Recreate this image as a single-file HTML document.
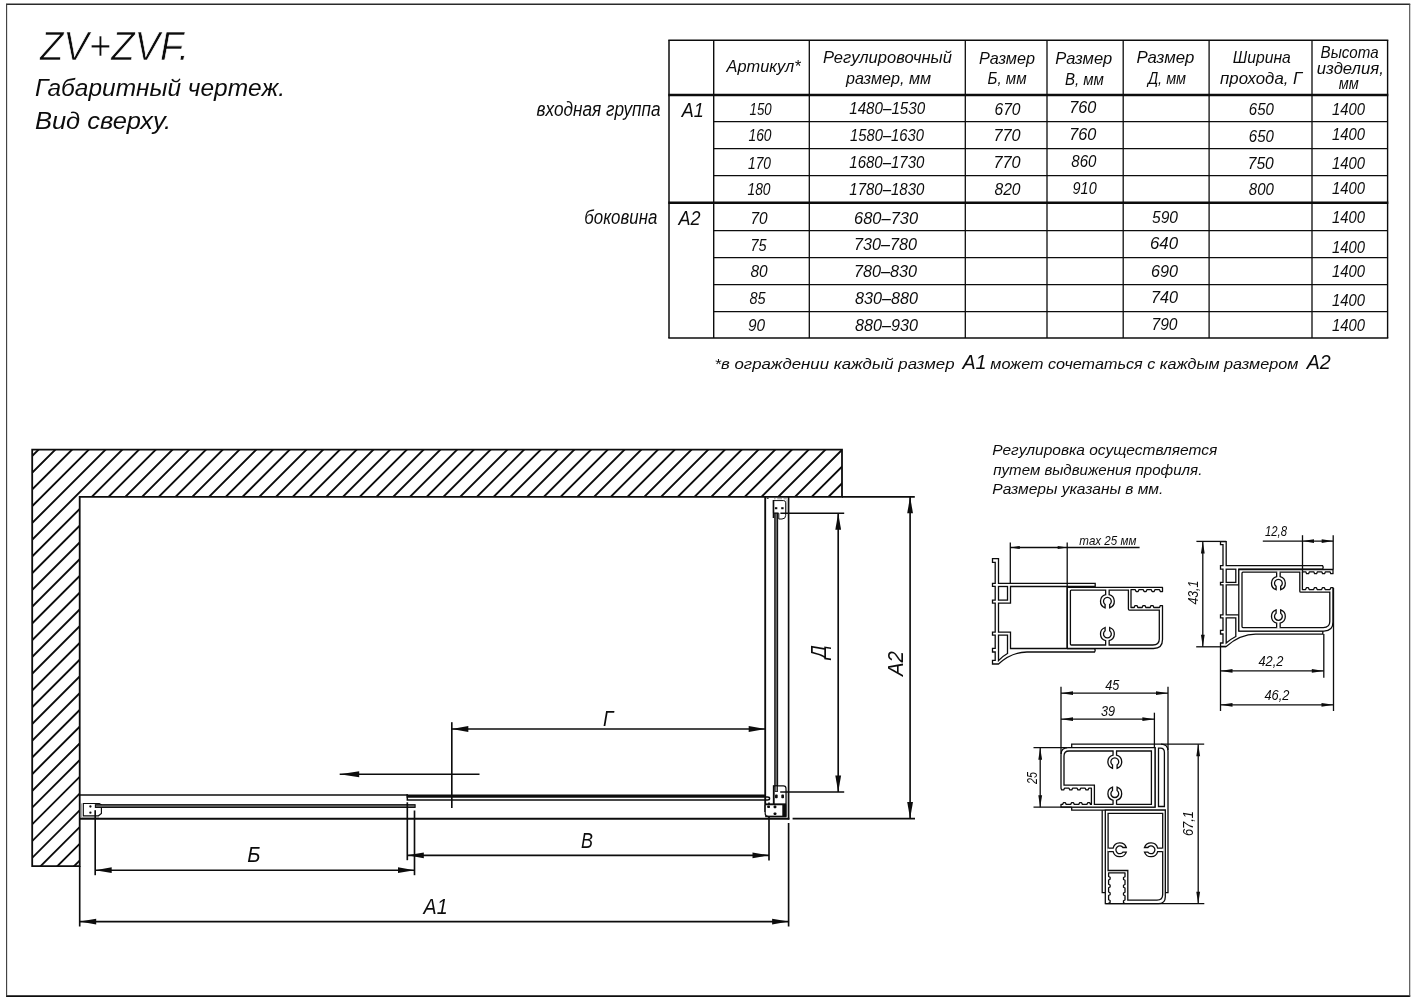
<!DOCTYPE html>
<html lang="ru">
<head>
<meta charset="utf-8">
<title>ZV+ZVF. Габаритный чертеж. Вид сверху.</title>
<style>
html,body{margin:0;padding:0;background:#fff;}
body{width:1415px;height:1000px;overflow:hidden;}
svg{display:block;filter:grayscale(1);}
svg text{font-family:"Liberation Sans", "DejaVu Sans", sans-serif;font-style:italic;fill:#0c0c0c;}
</style>
</head>
<body>
<svg width="1415" height="1000" viewBox="0 0 1415 1000">
<rect width="1415" height="1000" fill="#fff"/>
<g stroke="#0c0c0c" fill="none" stroke-linecap="butt" stroke-linejoin="miter">
<line x1="6.00" y1="4.30" x2="1410.20" y2="4.30" stroke-width="1.5" stroke="#2a2a2a"/>
<line x1="6.00" y1="996.10" x2="1410.20" y2="996.10" stroke-width="1.6"/>
<line x1="6.60" y1="4.00" x2="6.60" y2="996.50" stroke-width="1.1" stroke="#3a3a3a"/>
<line x1="1409.70" y1="4.00" x2="1409.70" y2="996.50" stroke-width="1.1" stroke="#4a4a4a"/>
<line x1="669.00" y1="40.20" x2="669.00" y2="338.00" stroke-width="1.5"/>
<line x1="713.70" y1="40.20" x2="713.70" y2="338.00" stroke-width="1.4"/>
<line x1="809.30" y1="40.20" x2="809.30" y2="338.00" stroke-width="1.3"/>
<line x1="965.30" y1="40.20" x2="965.30" y2="338.00" stroke-width="1.3"/>
<line x1="1047.00" y1="40.20" x2="1047.00" y2="338.00" stroke-width="1.3"/>
<line x1="1123.20" y1="40.20" x2="1123.20" y2="338.00" stroke-width="1.3"/>
<line x1="1209.10" y1="40.20" x2="1209.10" y2="338.00" stroke-width="1.3"/>
<line x1="1312.00" y1="40.20" x2="1312.00" y2="338.00" stroke-width="1.3"/>
<line x1="1387.60" y1="40.20" x2="1387.60" y2="338.00" stroke-width="1.4"/>
<line x1="668.30" y1="40.20" x2="1388.30" y2="40.20" stroke-width="1.4"/>
<line x1="668.30" y1="338.00" x2="1388.30" y2="338.00" stroke-width="1.3"/>
<line x1="668.30" y1="95.00" x2="1388.30" y2="95.00" stroke-width="2.4"/>
<line x1="668.30" y1="202.80" x2="1388.30" y2="202.80" stroke-width="2.4"/>
<line x1="713.70" y1="121.60" x2="1387.60" y2="121.60" stroke-width="1.25"/>
<line x1="713.70" y1="148.60" x2="1387.60" y2="148.60" stroke-width="1.25"/>
<line x1="713.70" y1="175.60" x2="1387.60" y2="175.60" stroke-width="1.25"/>
<line x1="713.70" y1="230.50" x2="1387.60" y2="230.50" stroke-width="1.25"/>
<line x1="713.70" y1="257.50" x2="1387.60" y2="257.50" stroke-width="1.25"/>
<line x1="713.70" y1="284.50" x2="1387.60" y2="284.50" stroke-width="1.25"/>
<line x1="713.70" y1="311.50" x2="1387.60" y2="311.50" stroke-width="1.25"/>
<clipPath id="wc"><polygon points="32.2,449.7 842,449.7 842,496.8 79.7,496.8 79.7,866.1 32.2,866.1"/></clipPath>
<path d="M-382.90 871.10L43.50 444.70M-366.16 871.10L60.24 444.70M-349.42 871.10L76.98 444.70M-332.67 871.10L93.73 444.70M-315.93 871.10L110.47 444.70M-299.19 871.10L127.21 444.70M-282.45 871.10L143.95 444.70M-265.71 871.10L160.69 444.70M-248.96 871.10L177.44 444.70M-232.22 871.10L194.18 444.70M-215.48 871.10L210.92 444.70M-198.74 871.10L227.66 444.70M-182.00 871.10L244.40 444.70M-165.25 871.10L261.15 444.70M-148.51 871.10L277.89 444.70M-131.77 871.10L294.63 444.70M-115.03 871.10L311.37 444.70M-98.29 871.10L328.11 444.70M-81.54 871.10L344.86 444.70M-64.80 871.10L361.60 444.70M-48.06 871.10L378.34 444.70M-31.32 871.10L395.08 444.70M-14.58 871.10L411.82 444.70M2.17 871.10L428.57 444.70M18.91 871.10L445.31 444.70M35.65 871.10L462.05 444.70M52.39 871.10L478.79 444.70M69.13 871.10L495.53 444.70M85.88 871.10L512.28 444.70M102.62 871.10L529.02 444.70M119.36 871.10L545.76 444.70M136.10 871.10L562.50 444.70M152.84 871.10L579.24 444.70M169.59 871.10L595.99 444.70M186.33 871.10L612.73 444.70M203.07 871.10L629.47 444.70M219.81 871.10L646.21 444.70M236.55 871.10L662.95 444.70M253.30 871.10L679.70 444.70M270.04 871.10L696.44 444.70M286.78 871.10L713.18 444.70M303.52 871.10L729.92 444.70M320.26 871.10L746.66 444.70M337.01 871.10L763.41 444.70M353.75 871.10L780.15 444.70M370.49 871.10L796.89 444.70M387.23 871.10L813.63 444.70M403.97 871.10L830.37 444.70M420.72 871.10L847.12 444.70M437.46 871.10L863.86 444.70M454.20 871.10L880.60 444.70M470.94 871.10L897.34 444.70" stroke-width="1.9" fill="none" clip-path="url(#wc)"/>
<polygon points="32.2,449.7 842,449.7 842,496.8 79.7,496.8 79.7,866.1 32.2,866.1" fill="none" stroke-width="1.8"/>
<line x1="842.00" y1="496.80" x2="914.80" y2="496.80" stroke-width="1.65"/>
<line x1="765.20" y1="496.80" x2="765.20" y2="812.00" stroke-width="1.85"/>
<line x1="788.60" y1="496.80" x2="788.60" y2="819.60" stroke-width="1.65"/>
<line x1="787.00" y1="500.00" x2="787.00" y2="514.00" stroke-width="0.9" stroke="#9a9a9a"/>
<line x1="786.90" y1="790.00" x2="786.90" y2="816.00" stroke-width="0.9" stroke="#9a9a9a"/>
<line x1="788.60" y1="823.00" x2="788.60" y2="926.50" stroke-width="1.65"/>
<line x1="79.70" y1="866.10" x2="79.70" y2="926.50" stroke-width="1.65"/>
<line x1="79.70" y1="795.00" x2="407.50" y2="795.00" stroke-width="1.55"/>
<line x1="79.70" y1="818.70" x2="789.40" y2="818.70" stroke-width="1.85"/>
<line x1="792.60" y1="818.60" x2="915.00" y2="818.60" stroke-width="1.65"/>
<path d="M773.4 500.6H783.6Q785.7 500.6 785.7 502.8V515.4Q785.7 519 782 519H778.8V513.2H773.4Z" stroke-width="1.0" fill="#fff"/>
<line x1="773.50" y1="500.00" x2="773.50" y2="518.00" stroke-width="1.6"/>
<rect x="774.9" y="507.2" width="2.4" height="2" fill="#0c0c0c" stroke="none"/><rect x="781.2" y="507.2" width="2.4" height="2" fill="#0c0c0c" stroke="none"/>
<line x1="774.00" y1="498.80" x2="786.80" y2="498.80" stroke-width="0.9" stroke="#888" stroke-dasharray="1.6 1.6 4.8 1.6 3.2 20"/>
<line x1="766.80" y1="498.30" x2="768.60" y2="498.30" stroke-width="1.0"/>
<rect x="774.80" y="513.20" width="2.80" height="278.40" rx="0" stroke-width="1.1" fill="#6a6a6a"/>
<path d="M81.4 803.4V817.5H99" stroke-width="0.8" fill="none" stroke="#8a8a8a"/>
<path d="M83.3 803.5H99.3L101.4 804.9V813.4L98.4 815.8H83.3Z" stroke-width="1.15" fill="#fff"/>
<circle cx="90.4" cy="806.5" r="1.15" fill="#0c0c0c" stroke="none"/><circle cx="90.4" cy="812.7" r="1.15" fill="#0c0c0c" stroke="none"/>
<rect x="95.40" y="804.70" width="319.70" height="2.70" rx="0" stroke-width="1.1" fill="#6a6a6a"/>
<line x1="95.20" y1="810.20" x2="95.20" y2="875.20" stroke-width="1.65"/>
<line x1="414.50" y1="810.50" x2="414.50" y2="875.20" stroke-width="1.65"/>
<line x1="407.30" y1="802.30" x2="407.30" y2="860.20" stroke-width="1.65"/>
<line x1="769.00" y1="802.50" x2="769.00" y2="860.50" stroke-width="1.65"/>
<line x1="451.80" y1="722.20" x2="451.80" y2="808.00" stroke-width="1.65"/>
<path d="M773.7 804.3V787.6Q773.7 785.9 775.4 785.9H783.4Q786 785.9 786 788.5V816.6H768.2Q765.2 816.6 765.2 813.6V805" stroke-width="1.2" fill="#fff"/>
<line x1="773.70" y1="785.20" x2="773.70" y2="804.30" stroke-width="1.7"/>
<rect x="774.90" y="786.00" width="2.70" height="5.60" rx="0" stroke-width="0.8" fill="#8a8a8a"/>
<line x1="765.20" y1="804.30" x2="786.00" y2="804.30" stroke-width="1.9"/>
<rect x="782.3" y="804.3" width="3.9" height="12.5" fill="#0c0c0c" stroke="none"/>
<line x1="765.20" y1="816.40" x2="786.00" y2="816.40" stroke-width="1.5"/>
<rect x="775.0" y="794.6" width="2.7" height="3.6" rx="0.8" fill="#0c0c0c" stroke="none"/>
<rect x="781.3" y="794.6" width="2.7" height="3.6" rx="0.8" fill="#0c0c0c" stroke="none"/>
<rect x="767.2" y="805.5" width="2.8" height="2.6" rx="0.8" fill="#0c0c0c" stroke="none"/>
<rect x="773.6" y="805.6" width="2.8" height="2.6" rx="0.8" fill="#0c0c0c" stroke="none"/>
<rect x="773.6" y="812.4" width="2.8" height="2.6" rx="0.8" fill="#0c0c0c" stroke="none"/>
<path d="M407.3 794.3V799.9H767.5Q769.6 799.9 769.6 798.4Q769.6 796.9 767.5 796.9H765.5" stroke-width="1.45" fill="none"/>
<line x1="406.60" y1="796.10" x2="765.60" y2="796.10" stroke-width="3.3"/>
<line x1="79.70" y1="921.60" x2="788.60" y2="921.60" stroke-width="1.65"/>
<polygon points="79.70,921.60 96.20,918.70 96.20,924.50" fill="#0c0c0c" stroke="none"/>
<polygon points="788.60,921.60 772.10,924.50 772.10,918.70" fill="#0c0c0c" stroke="none"/>
<line x1="95.20" y1="870.20" x2="414.50" y2="870.20" stroke-width="1.65"/>
<polygon points="95.20,870.20 111.70,867.30 111.70,873.10" fill="#0c0c0c" stroke="none"/>
<polygon points="414.50,870.20 398.00,873.10 398.00,867.30" fill="#0c0c0c" stroke="none"/>
<line x1="407.30" y1="855.30" x2="769.00" y2="855.30" stroke-width="1.65"/>
<polygon points="407.30,855.30 423.80,852.40 423.80,858.20" fill="#0c0c0c" stroke="none"/>
<polygon points="769.00,855.30 752.50,858.20 752.50,852.40" fill="#0c0c0c" stroke="none"/>
<line x1="451.80" y1="729.00" x2="765.20" y2="729.00" stroke-width="1.65"/>
<polygon points="451.80,729.00 468.30,726.10 468.30,731.90" fill="#0c0c0c" stroke="none"/>
<polygon points="765.20,729.00 748.70,731.90 748.70,726.10" fill="#0c0c0c" stroke="none"/>
<line x1="339.70" y1="774.20" x2="479.50" y2="774.20" stroke-width="1.65"/>
<polygon points="339.70,774.20 359.20,771.20 359.20,777.20" fill="#0c0c0c" stroke="none"/>
<line x1="780.40" y1="513.20" x2="844.20" y2="513.20" stroke-width="1.65"/>
<line x1="780.20" y1="792.00" x2="844.20" y2="792.00" stroke-width="1.65"/>
<line x1="838.20" y1="513.20" x2="838.20" y2="792.00" stroke-width="1.65"/>
<polygon points="838.20,513.20 841.10,529.70 835.30,529.70" fill="#0c0c0c" stroke="none"/>
<polygon points="838.20,792.00 835.30,775.50 841.10,775.50" fill="#0c0c0c" stroke="none"/>
<line x1="910.10" y1="496.80" x2="910.10" y2="818.60" stroke-width="1.65"/>
<polygon points="910.10,496.80 913.00,513.30 907.20,513.30" fill="#0c0c0c" stroke="none"/>
<polygon points="910.10,818.60 907.20,802.10 913.00,802.10" fill="#0c0c0c" stroke="none"/>
<path d="M992.5 558.7H998.5V583.3H1095.2V586.5H1010.5V603.2H998.5V632.2H1010.5V648.5H1094.5Q1095.8 650.2 1094.5 652H1027C1015 652 1006 657 998.5 664H992.5V660.4H995.2V652H992.5V648.4H995.2V635.2H992.5V632.2H995.2V603.2H992.5V600.2H995.2V586.4H992.5V583.3H995.2V562.3H992.5Z" stroke-width="1.3" fill="#fff"/>
<rect x="998.50" y="586.50" width="9.00" height="13.60" rx="0" stroke-width="1.3" fill="none"/>
<path d="M998.5 635.2H1007.5V653.5Q1002 656.5 998.5 660.6Z" stroke-width="1.3" fill="none"/>
<path d="M1067.2 587.4H1162.5V591.5999999999999H1160.3L1159.50 589.6999999999999L1154.90 589.70L1154.10 591.60L1152.10 591.60L1151.30 589.70L1146.90 589.70L1146.10 591.60L1144.10 591.60L1143.30 589.70L1138.90 589.70L1138.10 591.60L1136.10 591.60L1135.30 589.70L1131.00 589.70V607.5L1134.20 607.50L1135.00 605.60L1137.00 605.60L1137.80 607.50L1142.20 607.50L1143.00 605.60L1145.00 605.60L1145.80 607.50L1150.20 607.50L1151.00 605.60L1153.00 605.60L1153.80 607.50L1159.50 607.50L1160.30 605.6H1162.5V639.5Q1162.5 648.5 1153.5 648.5H1067.2Z" stroke-width="1.3" fill="#fff" stroke-linejoin="round"/>
<path d="M1071.4 590.1H1128.4V609.1Q1128.4 610.1 1129.4 610.1H1159.3V639.0Q1159.3 645.0 1152.8 645.0H1071.4Q1070.4 645.0 1070.4 644.0V591.1Q1070.4 590.1 1071.4 590.1Z" stroke-width="1.3" fill="#fff"/>
<g transform="translate(1107.40 601.30) rotate(0)"><line x1="-1.15" y1="-11.20" x2="1.15" y2="-11.20" stroke="#fff" stroke-width="2"/><path d="M-1.75 -11.20V-6.67A6.9 6.9 0 0 0 -2.30 6.51L-2.30 3.15A3.9 3.9 0 1 1 2.30 3.15L2.30 6.51A6.9 6.9 0 0 0 1.75 -6.67V-11.20" stroke-width="1.3" fill="#fff"/></g>
<g transform="translate(1107.40 634.00) rotate(180)"><line x1="-1.15" y1="-11.00" x2="1.15" y2="-11.00" stroke="#fff" stroke-width="2"/><path d="M-1.75 -11.00V-6.67A6.9 6.9 0 0 0 -2.30 6.51L-2.30 3.15A3.9 3.9 0 1 1 2.30 3.15L2.30 6.51A6.9 6.9 0 0 0 1.75 -6.67V-11.00" stroke-width="1.3" fill="#fff"/></g>
<line x1="1010.30" y1="542.40" x2="1010.30" y2="583.30" stroke-width="1.3"/>
<line x1="1067.20" y1="542.40" x2="1067.20" y2="648.50" stroke-width="1.3"/>
<line x1="1010.30" y1="547.50" x2="1139.60" y2="547.50" stroke-width="1.3"/>
<polygon points="1010.30,547.50 1019.80,545.90 1019.80,549.10" fill="#0c0c0c" stroke="none"/>
<polygon points="1067.20,547.50 1057.70,549.10 1057.70,545.90" fill="#0c0c0c" stroke="none"/>
<path d="M1220.5 541.6H1226.2V565.6H1322.5Q1323.8 567.4 1322.5 569.2H1238.8V584.8H1226.2V614.8H1238.8V630.8H1322.8V634.2H1255.6C1245 634.2 1235 639 1226.2 646.4H1220.5V643H1223V634H1220.5V630.4H1223V617.8H1220.5V614.8H1223V584.8H1220.5V582.4H1223V569.2H1220.5V565.6H1223V544.6H1220.5Z" stroke-width="1.3" fill="#fff"/>
<rect x="1226.20" y="569.20" width="9.60" height="13.20" rx="0" stroke-width="1.3" fill="none"/>
<path d="M1226.2 617.8H1235.8V636.5Q1230 639.5 1226.2 643Z" stroke-width="1.3" fill="none"/>
<path d="M1238.8 569.5H1333V573.6999999999999H1330.8L1330.00 571.8L1325.40 571.80L1324.60 573.70L1322.60 573.70L1321.80 571.80L1317.40 571.80L1316.60 573.70L1314.60 573.70L1313.80 571.80L1309.40 571.80L1308.60 573.70L1306.60 573.70L1305.80 571.80L1302.40 571.80V589.6L1305.60 589.60L1306.40 587.70L1308.40 587.70L1309.20 589.60L1313.60 589.60L1314.40 587.70L1316.40 587.70L1317.20 589.60L1321.60 589.60L1322.40 587.70L1324.40 587.70L1325.20 589.60L1330.00 589.60L1330.80 587.7H1333V622.1Q1333 631.1 1324 631.1H1238.8Z" stroke-width="1.3" fill="#fff" stroke-linejoin="round"/>
<path d="M1243.0 572.2H1299.8000000000002V591.2Q1299.8000000000002 592.2 1300.8000000000002 592.2H1329.8V621.6Q1329.8 627.6 1323.3 627.6H1243.0Q1242.0 627.6 1242.0 626.6V573.2Q1242.0 572.2 1243.0 572.2Z" stroke-width="1.3" fill="#fff"/>
<g transform="translate(1278.40 583.20) rotate(0)"><line x1="-1.15" y1="-11.00" x2="1.15" y2="-11.00" stroke="#fff" stroke-width="2"/><path d="M-1.75 -11.00V-6.67A6.9 6.9 0 0 0 -2.30 6.51L-2.30 3.15A3.9 3.9 0 1 1 2.30 3.15L2.30 6.51A6.9 6.9 0 0 0 1.75 -6.67V-11.00" stroke-width="1.3" fill="#fff"/></g>
<g transform="translate(1278.40 616.40) rotate(180)"><line x1="-1.15" y1="-11.20" x2="1.15" y2="-11.20" stroke="#fff" stroke-width="2"/><path d="M-1.75 -11.20V-6.67A6.9 6.9 0 0 0 -2.30 6.51L-2.30 3.15A3.9 3.9 0 1 1 2.30 3.15L2.30 6.51A6.9 6.9 0 0 0 1.75 -6.67V-11.20" stroke-width="1.3" fill="#fff"/></g>
<line x1="1196.40" y1="541.40" x2="1226.20" y2="541.40" stroke-width="1.3"/>
<line x1="1196.20" y1="646.80" x2="1226.20" y2="646.80" stroke-width="1.3"/>
<line x1="1202.80" y1="541.40" x2="1202.80" y2="646.80" stroke-width="1.3"/>
<polygon points="1202.80,541.40 1204.70,553.40 1200.90,553.40" fill="#0c0c0c" stroke="none"/>
<polygon points="1202.80,646.80 1200.90,634.80 1204.70,634.80" fill="#0c0c0c" stroke="none"/>
<line x1="1262.80" y1="541.10" x2="1333.20" y2="541.10" stroke-width="1.3"/>
<line x1="1302.50" y1="535.20" x2="1302.50" y2="572.80" stroke-width="1.3"/>
<line x1="1333.20" y1="535.20" x2="1333.20" y2="569.60" stroke-width="1.3"/>
<polygon points="1302.50,541.10 1314.00,539.30 1314.00,542.90" fill="#0c0c0c" stroke="none"/>
<polygon points="1333.20,541.10 1321.70,542.90 1321.70,539.30" fill="#0c0c0c" stroke="none"/>
<line x1="1220.50" y1="646.80" x2="1220.50" y2="711.00" stroke-width="1.3"/>
<line x1="1323.80" y1="634.10" x2="1323.80" y2="677.70" stroke-width="1.3"/>
<line x1="1333.50" y1="588.00" x2="1333.50" y2="711.00" stroke-width="1.3"/>
<line x1="1220.50" y1="670.90" x2="1323.80" y2="670.90" stroke-width="1.3"/>
<polygon points="1220.50,670.90 1232.50,669.00 1232.50,672.80" fill="#0c0c0c" stroke="none"/>
<polygon points="1323.80,670.90 1311.80,672.80 1311.80,669.00" fill="#0c0c0c" stroke="none"/>
<line x1="1220.50" y1="704.80" x2="1333.50" y2="704.80" stroke-width="1.3"/>
<polygon points="1220.50,704.80 1232.50,702.90 1232.50,706.70" fill="#0c0c0c" stroke="none"/>
<polygon points="1333.50,704.80 1321.50,706.70 1321.50,702.90" fill="#0c0c0c" stroke="none"/>
<path d="M1071.7 744.2H1161Q1168 744.2 1168 751.2V892.7H1165.3V810.2H1071.7V807.2H1155V747.7H1071.7Z" stroke-width="1.3" fill="#fff"/>
<path d="M1158.5 748.2H1160.5Q1164.4 748.2 1164.4 752.5V806.5H1158.5Z" stroke-width="1.3" fill="#fff"/>
<path d="M1061 754.7Q1061 747.7 1068 747.7H1155V807.2H1061V804.4L1062.60 804.40L1063.40 802.70L1065.40 802.70L1066.20 804.40L1070.70 804.40L1071.50 802.70L1073.50 802.70L1074.30 804.40L1078.80 804.40L1079.60 802.70L1081.60 802.70L1082.40 804.40L1086.90 804.40L1087.70 802.70L1089.70 802.70L1090.50 804.40L1091.40 804.40V788.2L1088.80 788.20L1088.00 789.90L1086.00 789.90L1085.20 788.20L1080.70 788.20L1079.90 789.90L1077.90 789.90L1077.10 788.20L1072.60 788.20L1071.80 789.90L1069.80 789.90L1069.00 788.20L1064.50 788.20L1063.70 789.90L1061.70 789.90L1061.00 788.20L1061.00 788.20Z" stroke-width="1.3" fill="#fff" stroke-linejoin="round"/>
<path d="M1069 751H1151.4V804.4H1094.4V785.2H1064V756Q1064 751 1069 751Z" stroke-width="1.3" fill="#fff"/>
<g transform="translate(1114.80 761.80) rotate(0)"><line x1="-1.15" y1="-10.80" x2="1.15" y2="-10.80" stroke="#fff" stroke-width="2"/><path d="M-1.75 -10.80V-6.67A6.9 6.9 0 0 0 -2.30 6.51L-2.30 3.15A3.9 3.9 0 1 1 2.30 3.15L2.30 6.51A6.9 6.9 0 0 0 1.75 -6.67V-10.80" stroke-width="1.3" fill="#fff"/></g>
<g transform="translate(1114.80 793.60) rotate(180)"><line x1="-1.15" y1="-10.80" x2="1.15" y2="-10.80" stroke="#fff" stroke-width="2"/><path d="M-1.75 -10.80V-6.67A6.9 6.9 0 0 0 -2.30 6.51L-2.30 3.15A3.9 3.9 0 1 1 2.30 3.15L2.30 6.51A6.9 6.9 0 0 0 1.75 -6.67V-10.80" stroke-width="1.3" fill="#fff"/></g>
<path d="M1102.2 810.2V892.7H1105.5" stroke-width="1.3" fill="none"/>
<path d="M1105.3 810.2H1165.3V896.7Q1165.3 903.7 1158.3 903.7H1105.3Z" stroke-width="1.3" fill="#fff"/>
<path d="M1108.6 903.7L1108.60 903.30L1110.10 902.50L1110.10 900.50L1108.60 899.70L1108.60 895.55L1110.10 894.75L1110.10 892.75L1108.60 891.95L1108.60 887.80L1110.10 887.00L1110.10 885.00L1108.60 884.20L1108.60 880.05L1110.10 879.25L1110.10 877.25L1108.60 876.45L1108.60 872.80H1125L1125.00 876.70L1123.50 877.50L1123.50 879.50L1125.00 880.30L1125.00 884.45L1123.50 885.25L1123.50 887.25L1125.00 888.05L1125.00 892.20L1123.50 893.00L1123.50 895.00L1125.00 895.80L1125.00 899.95L1123.50 900.75L1123.50 902.75L1125.00 903.55L1125.00 903.70" stroke-width="1.3" fill="none" stroke-linejoin="round"/>
<path d="M1108.1 813.4H1162.7V894.6Q1162.7 900.2 1157 900.2H1127.8V870.5H1108.1Z" stroke-width="1.3" fill="#fff"/>
<g transform="translate(1119.80 849.80) rotate(270)"><line x1="-1.15" y1="-11.50" x2="1.15" y2="-11.50" stroke="#fff" stroke-width="2"/><path d="M-1.75 -11.50V-6.67A6.9 6.9 0 0 0 -2.30 6.51L-2.30 3.15A3.9 3.9 0 1 1 2.30 3.15L2.30 6.51A6.9 6.9 0 0 0 1.75 -6.67V-11.50" stroke-width="1.3" fill="#fff"/></g>
<g transform="translate(1151.00 849.80) rotate(90)"><line x1="-1.15" y1="-11.70" x2="1.15" y2="-11.70" stroke="#fff" stroke-width="2"/><path d="M-1.75 -11.70V-6.67A6.9 6.9 0 0 0 -2.30 6.51L-2.30 3.15A3.9 3.9 0 1 1 2.30 3.15L2.30 6.51A6.9 6.9 0 0 0 1.75 -6.67V-11.70" stroke-width="1.3" fill="#fff"/></g>
<line x1="1061.00" y1="686.80" x2="1061.00" y2="754.00" stroke-width="1.3"/>
<line x1="1168.00" y1="686.80" x2="1168.00" y2="750.00" stroke-width="1.3"/>
<line x1="1154.40" y1="712.70" x2="1154.40" y2="747.70" stroke-width="1.3"/>
<line x1="1061.00" y1="693.20" x2="1168.00" y2="693.20" stroke-width="1.3"/>
<polygon points="1061.00,693.20 1073.00,691.30 1073.00,695.10" fill="#0c0c0c" stroke="none"/>
<polygon points="1168.00,693.20 1156.00,695.10 1156.00,691.30" fill="#0c0c0c" stroke="none"/>
<line x1="1061.00" y1="719.20" x2="1154.40" y2="719.20" stroke-width="1.3"/>
<polygon points="1061.00,719.20 1073.00,717.30 1073.00,721.10" fill="#0c0c0c" stroke="none"/>
<polygon points="1154.40,719.20 1142.40,721.10 1142.40,717.30" fill="#0c0c0c" stroke="none"/>
<line x1="1033.50" y1="747.70" x2="1067.00" y2="747.70" stroke-width="1.3"/>
<line x1="1033.50" y1="807.20" x2="1071.70" y2="807.20" stroke-width="1.3"/>
<line x1="1040.20" y1="747.70" x2="1040.20" y2="807.20" stroke-width="1.3"/>
<polygon points="1040.20,747.70 1042.10,759.70 1038.30,759.70" fill="#0c0c0c" stroke="none"/>
<polygon points="1040.20,807.20 1038.30,795.20 1042.10,795.20" fill="#0c0c0c" stroke="none"/>
<line x1="1161.00" y1="744.20" x2="1204.20" y2="744.20" stroke-width="1.3"/>
<line x1="1105.50" y1="903.70" x2="1204.30" y2="903.70" stroke-width="1.3"/>
<line x1="1198.20" y1="744.20" x2="1198.20" y2="903.70" stroke-width="1.3"/>
<polygon points="1198.20,744.20 1200.10,756.20 1196.30,756.20" fill="#0c0c0c" stroke="none"/>
<polygon points="1198.20,903.70 1196.30,891.70 1200.10,891.70" fill="#0c0c0c" stroke="none"/>
</g>
<g opacity="0.999">
<text id="t0" x="40.02" y="60.30" font-size="40.7" textLength="149.08" lengthAdjust="spacingAndGlyphs" stroke="#fff" stroke-width="0.7">ZV+ZVF.</text>
<text id="t1" x="34.99" y="96.30" font-size="23.7" textLength="250.03" lengthAdjust="spacingAndGlyphs">Габаритный чертеж.</text>
<text id="t2" x="34.97" y="128.80" font-size="23.7" textLength="136.06" lengthAdjust="spacingAndGlyphs">Вид сверху.</text>
<text id="t3" x="726.60" y="71.60" font-size="17" textLength="74.03" lengthAdjust="spacingAndGlyphs">Артикул*</text>
<text id="t4" x="823.00" y="62.80" font-size="17" textLength="129.00" lengthAdjust="spacingAndGlyphs">Регулировочный</text>
<text id="t5" x="846.00" y="83.60" font-size="17" textLength="85.04" lengthAdjust="spacingAndGlyphs">размер, мм</text>
<text id="t6" x="979.00" y="63.60" font-size="17" textLength="56.00" lengthAdjust="spacingAndGlyphs">Размер</text>
<text id="t7" x="987.60" y="83.70" font-size="17" textLength="39.00" lengthAdjust="spacingAndGlyphs">Б, мм</text>
<text id="t8" x="1055.26" y="63.60" font-size="17" textLength="57.06" lengthAdjust="spacingAndGlyphs">Размер</text>
<text id="t9" x="1064.90" y="84.50" font-size="17" textLength="39.00" lengthAdjust="spacingAndGlyphs">В, мм</text>
<text id="t10" x="1136.38" y="63.00" font-size="17" textLength="58.02" lengthAdjust="spacingAndGlyphs">Размер</text>
<text id="t11" x="1147.88" y="83.70" font-size="17" textLength="38.14" lengthAdjust="spacingAndGlyphs">Д, мм</text>
<text id="t12" x="1232.80" y="62.50" font-size="17" textLength="58.03" lengthAdjust="spacingAndGlyphs">Ширина</text>
<text id="t13" x="1220.10" y="83.70" font-size="17" textLength="82.04" lengthAdjust="spacingAndGlyphs">прохода, Г</text>
<text id="t14" x="1320.60" y="58.20" font-size="17" textLength="57.99" lengthAdjust="spacingAndGlyphs">Высота</text>
<text id="t15" x="1316.80" y="74.30" font-size="17" textLength="67.06" lengthAdjust="spacingAndGlyphs">изделия,</text>
<text id="t16" x="1338.80" y="89.10" font-size="17" textLength="20.04" lengthAdjust="spacingAndGlyphs">мм</text>
<text id="t17" x="536.60" y="116.00" font-size="19.5" textLength="124.01" lengthAdjust="spacingAndGlyphs">входная группа</text>
<text id="t18" x="584.30" y="223.70" font-size="19.5" textLength="73.01" lengthAdjust="spacingAndGlyphs">боковина</text>
<text id="t19" x="681.63" y="116.50" font-size="19.5" textLength="22.06" lengthAdjust="spacingAndGlyphs">А1</text>
<text id="t20" x="678.48" y="224.50" font-size="19.5" textLength="22.05" lengthAdjust="spacingAndGlyphs">А2</text>
<text id="t21" x="749.60" y="114.50" font-size="16.5" textLength="22.05" lengthAdjust="spacingAndGlyphs">150</text>
<text id="t22" x="748.50" y="140.50" font-size="16.5" textLength="23.05" lengthAdjust="spacingAndGlyphs">160</text>
<text id="t23" x="748.00" y="168.50" font-size="16.5" textLength="23.04" lengthAdjust="spacingAndGlyphs">170</text>
<text id="t24" x="747.50" y="195.00" font-size="16.5" textLength="23.04" lengthAdjust="spacingAndGlyphs">180</text>
<text id="t25" x="750.38" y="223.50" font-size="16.5" textLength="17.14" lengthAdjust="spacingAndGlyphs">70</text>
<text id="t26" x="750.43" y="250.50" font-size="16.5" textLength="16.07" lengthAdjust="spacingAndGlyphs">75</text>
<text id="t27" x="750.41" y="277.20" font-size="16.5" textLength="17.19" lengthAdjust="spacingAndGlyphs">80</text>
<text id="t28" x="749.57" y="304.00" font-size="16.5" textLength="16.10" lengthAdjust="spacingAndGlyphs">85</text>
<text id="t29" x="747.93" y="330.80" font-size="16.5" textLength="17.13" lengthAdjust="spacingAndGlyphs">90</text>
<text id="t30" x="849.20" y="114.30" font-size="16.5" textLength="76.01" lengthAdjust="spacingAndGlyphs">1480–1530</text>
<text id="t31" x="850.00" y="141.00" font-size="16.5" textLength="74.00" lengthAdjust="spacingAndGlyphs">1580–1630</text>
<text id="t32" x="849.37" y="168.00" font-size="16.5" textLength="75.02" lengthAdjust="spacingAndGlyphs">1680–1730</text>
<text id="t33" x="849.37" y="195.30" font-size="16.5" textLength="75.02" lengthAdjust="spacingAndGlyphs">1780–1830</text>
<text id="t34" x="854.09" y="223.50" font-size="16.5" textLength="64.02" lengthAdjust="spacingAndGlyphs">680–730</text>
<text id="t35" x="854.09" y="250.00" font-size="16.5" textLength="63.03" lengthAdjust="spacingAndGlyphs">730–780</text>
<text id="t36" x="854.09" y="277.30" font-size="16.5" textLength="63.03" lengthAdjust="spacingAndGlyphs">780–830</text>
<text id="t37" x="855.10" y="303.80" font-size="16.5" textLength="63.02" lengthAdjust="spacingAndGlyphs">830–880</text>
<text id="t38" x="855.10" y="330.60" font-size="16.5" textLength="63.02" lengthAdjust="spacingAndGlyphs">880–930</text>
<text id="t39" x="994.50" y="114.70" font-size="16.5" textLength="26.00" lengthAdjust="spacingAndGlyphs">670</text>
<text id="t40" x="993.44" y="141.20" font-size="16.5" textLength="27.09" lengthAdjust="spacingAndGlyphs">770</text>
<text id="t41" x="993.44" y="168.00" font-size="16.5" textLength="27.09" lengthAdjust="spacingAndGlyphs">770</text>
<text id="t42" x="994.46" y="195.30" font-size="16.5" textLength="26.04" lengthAdjust="spacingAndGlyphs">820</text>
<text id="t43" x="1069.13" y="113.40" font-size="16.5" textLength="27.12" lengthAdjust="spacingAndGlyphs">760</text>
<text id="t44" x="1069.13" y="140.00" font-size="16.5" textLength="27.12" lengthAdjust="spacingAndGlyphs">760</text>
<text id="t45" x="1071.30" y="167.20" font-size="16.5" textLength="25.08" lengthAdjust="spacingAndGlyphs">860</text>
<text id="t46" x="1072.60" y="194.00" font-size="16.5" textLength="24.05" lengthAdjust="spacingAndGlyphs">910</text>
<text id="t47" x="1152.00" y="222.60" font-size="16.5" textLength="26.00" lengthAdjust="spacingAndGlyphs">590</text>
<text id="t48" x="1149.96" y="249.20" font-size="16.5" textLength="28.09" lengthAdjust="spacingAndGlyphs">640</text>
<text id="t49" x="1150.96" y="276.70" font-size="16.5" textLength="27.04" lengthAdjust="spacingAndGlyphs">690</text>
<text id="t50" x="1150.96" y="303.30" font-size="16.5" textLength="27.08" lengthAdjust="spacingAndGlyphs">740</text>
<text id="t51" x="1151.46" y="329.80" font-size="16.5" textLength="26.04" lengthAdjust="spacingAndGlyphs">790</text>
<text id="t52" x="1248.80" y="115.20" font-size="16.5" textLength="25.02" lengthAdjust="spacingAndGlyphs">650</text>
<text id="t53" x="1248.80" y="142.00" font-size="16.5" textLength="25.02" lengthAdjust="spacingAndGlyphs">650</text>
<text id="t54" x="1247.73" y="168.50" font-size="16.5" textLength="26.11" lengthAdjust="spacingAndGlyphs">750</text>
<text id="t55" x="1248.80" y="195.30" font-size="16.5" textLength="25.02" lengthAdjust="spacingAndGlyphs">800</text>
<text id="t56" x="1332.00" y="114.70" font-size="16.5" textLength="33.03" lengthAdjust="spacingAndGlyphs">1400</text>
<text id="t57" x="1332.00" y="140.00" font-size="16.5" textLength="33.03" lengthAdjust="spacingAndGlyphs">1400</text>
<text id="t58" x="1332.00" y="169.30" font-size="16.5" textLength="33.03" lengthAdjust="spacingAndGlyphs">1400</text>
<text id="t59" x="1332.00" y="194.00" font-size="16.5" textLength="33.03" lengthAdjust="spacingAndGlyphs">1400</text>
<text id="t60" x="1332.00" y="222.60" font-size="16.5" textLength="33.03" lengthAdjust="spacingAndGlyphs">1400</text>
<text id="t61" x="1332.00" y="252.50" font-size="16.5" textLength="33.03" lengthAdjust="spacingAndGlyphs">1400</text>
<text id="t62" x="1332.00" y="277.30" font-size="16.5" textLength="33.03" lengthAdjust="spacingAndGlyphs">1400</text>
<text id="t63" x="1332.00" y="305.90" font-size="16.5" textLength="33.03" lengthAdjust="spacingAndGlyphs">1400</text>
<text id="t64" x="1332.00" y="330.60" font-size="16.5" textLength="33.03" lengthAdjust="spacingAndGlyphs">1400</text>
<text id="t65" x="714.50" y="368.50" font-size="15.5" textLength="240.00" lengthAdjust="spacingAndGlyphs">*в ограждении каждый размер</text>
<text id="t66" x="962.40" y="368.50" font-size="19.5" textLength="24.10" lengthAdjust="spacingAndGlyphs">А1</text>
<text id="t67" x="990.30" y="368.50" font-size="15.5" textLength="308.00" lengthAdjust="spacingAndGlyphs">может сочетаться с каждым размером</text>
<text id="t68" x="1306.68" y="368.50" font-size="19.5" textLength="24.05" lengthAdjust="spacingAndGlyphs">А2</text>
<text id="t69" x="247.19" y="862.00" font-size="22.5" textLength="13.19" lengthAdjust="spacingAndGlyphs">Б</text>
<text id="t70" x="423.61" y="913.90" font-size="22.5" textLength="24.04" lengthAdjust="spacingAndGlyphs">А1</text>
<text id="t71" x="581.00" y="848.40" font-size="22.5" textLength="12.00" lengthAdjust="spacingAndGlyphs">В</text>
<text id="t72" x="603.00" y="726.20" font-size="22.5" textLength="10.29" lengthAdjust="spacingAndGlyphs">Г</text>
<text id="t73" transform="translate(826.20 658.48) rotate(-90)" font-size="22.5" textLength="13.21" lengthAdjust="spacingAndGlyphs">Д</text>
<text id="t74" transform="translate(902.80 676.07) rotate(-90)" font-size="22.5" textLength="25.07" lengthAdjust="spacingAndGlyphs">А2</text>
<text id="t75" x="992.29" y="455.30" font-size="15.2" textLength="225.00" lengthAdjust="spacingAndGlyphs">Регулировка осуществляется</text>
<text id="t76" x="993.30" y="474.50" font-size="15.2" textLength="209.03" lengthAdjust="spacingAndGlyphs">путем выдвижения профиля.</text>
<text id="t77" x="992.29" y="494.30" font-size="15.2" textLength="171.02" lengthAdjust="spacingAndGlyphs">Размеры указаны в мм.</text>
<text id="t78" x="1079.30" y="545.30" font-size="13.5" textLength="57.01" lengthAdjust="spacingAndGlyphs">max 25 мм</text>
<text id="t79" x="1264.90" y="536.00" font-size="14" textLength="22.05" lengthAdjust="spacingAndGlyphs">12,8</text>
<text id="t80" transform="translate(1198.00 604.62) rotate(-90)" font-size="14" textLength="24.04" lengthAdjust="spacingAndGlyphs">43,1</text>
<text id="t81" x="1258.40" y="666.40" font-size="14" textLength="25.04" lengthAdjust="spacingAndGlyphs">42,2</text>
<text id="t82" x="1264.46" y="700.30" font-size="14" textLength="25.08" lengthAdjust="spacingAndGlyphs">46,2</text>
<text id="t83" x="1105.20" y="689.50" font-size="14" textLength="14.08" lengthAdjust="spacingAndGlyphs">45</text>
<text id="t84" x="1101.00" y="715.70" font-size="14" textLength="14.07" lengthAdjust="spacingAndGlyphs">39</text>
<text id="t85" transform="translate(1036.50 784.00) rotate(-90)" font-size="14" textLength="12.00" lengthAdjust="spacingAndGlyphs">25</text>
<text id="t86" transform="translate(1193.20 836.10) rotate(-90)" font-size="14" textLength="25.04" lengthAdjust="spacingAndGlyphs">67,1</text>
</g>
</svg>
</body>
</html>
